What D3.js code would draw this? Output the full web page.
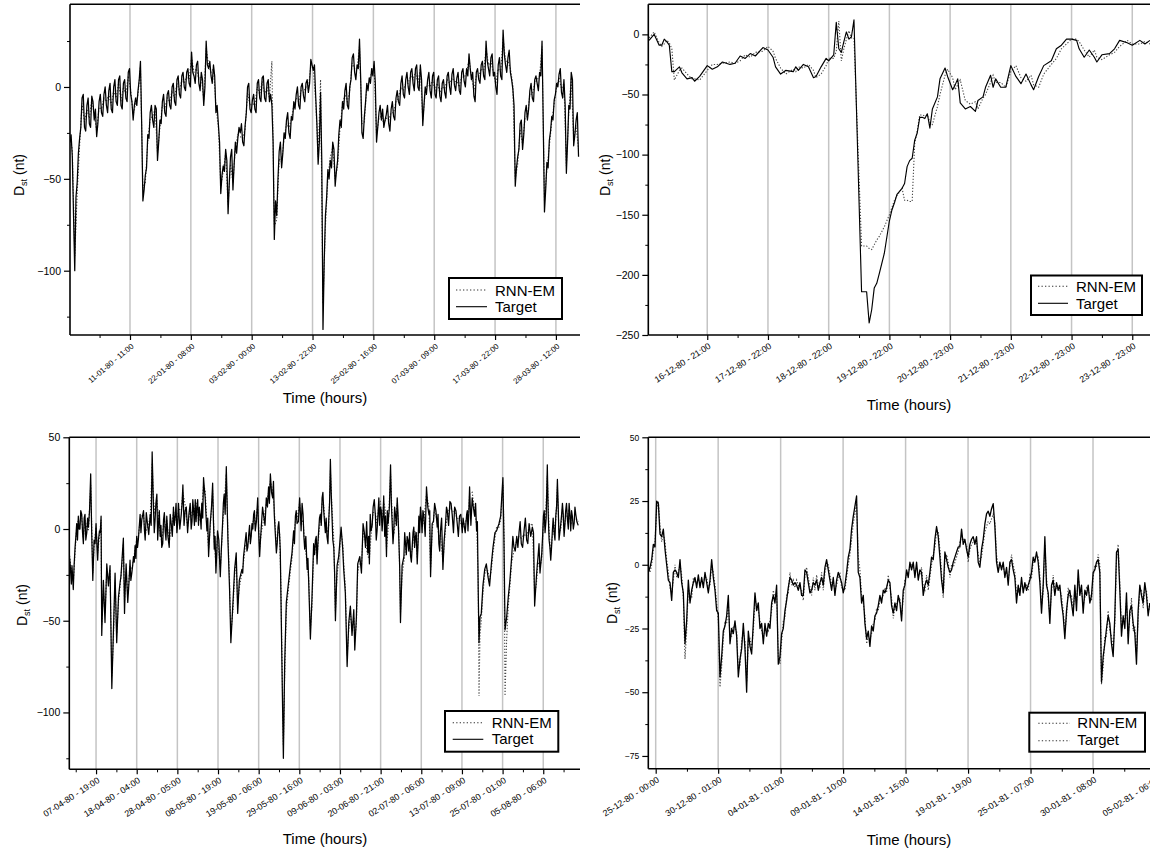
<!DOCTYPE html>
<html>
<head>
<meta charset="utf-8">
<script src="https://cdn.jsdelivr.net/npm/d3@7"></script>
<style>
  body { margin: 0; background: #fff; }
  svg { display: block; font-family: "Liberation Sans", Arial, sans-serif; }
</style>
</head>
<body>
<svg width="1150" height="851"></svg>
<script>
// ---- panel 1 : Jan - Mar 1980 (one reading every 10 samples, plus the in-between readings) ----
const p1Start = 3, p1Step = 10;
const p1Target = [
  -30,-38,-100,-52,-28,-6,-22,-10,-20,-5,
  -18,-27,-8,-14,-4,-10,-2,-12,0,-8,
  4,-10,2,-6,8,-4,-18,-6,-2,14,
  -62,-48,-26,-14,-18,-10,-40,-18,-8,-14,
  -4,-10,0,-8,4,-4,6,0,8,2,
  19,6,12,2,8,-10,25,10,6,12,
  -14,-20,-58,-43,-34,-69,-38,-56,-30,-28,
  -25,-30,-21,0,-12,-7,-12,2,-6,5,
  -6,2,-8,-10,-83,-70,-35,-44,-25,-18,
  -25,-16,-8,-4,-10,0,-5,2,-3,15,
  9,-5,-42,-3,-132,-70,-45,-40,-30,-54,
  -40,-18,-8,-2,-10,0,16,8,12,26,
  -25,-16,2,5,10,14,-30,-14,-18,-22,
  -15,-20,-12,-16,-6,-8,2,-4,4,0,
  8,2,10,0,12,-21,0,4,-2,6,
  -4,4,-5,2,-3,6,0,7,1,5,
  -2,8,3,10,18,4,-5,8,4,12,
  6,25,10,16,6,0,12,6,31,12,
  16,8,-1,-54,-38,-20,-34,-14,-18,-2,
  -6,4,2,8,25,-68,-41,-29,-16,-7,
  2,7,-3,4,-47,-10,8,-32,-18,-38];
// readings half way between the ones above
const p1TargetMid = [
  -26,-70,-60,-36,-22,-4,-24,-6,-22,-8,
  -12,-20,-4,-16,0,-14,2,-14,4,-10,
  6,-12,4,-8,10,-8,-10,-10,4,-20,
  -56,-44,-28,-10,-22,-12,-30,-20,-4,-16,
  -2,-12,2,-10,6,-6,8,-2,10,0,
  8,2,14,-2,4,0,12,14,2,6,
  -10,-30,-48,-46,-40,-52,-34,-42,-36,-22,
  -20,-32,-14,2,-14,-4,-14,4,-8,6,
  -8,4,-4,-30,-62,-50,-30,-36,-28,-14,
  -28,-18,-12,0,-12,2,-8,4,2,12,
  12,-20,-30,-40,-95,-60,-50,-44,-34,-46,
  -26,-22,-12,2,-12,4,18,4,10,4,
  -28,-8,-2,2,6,2,-22,-10,-12,-18,
  -10,-24,-8,-18,-2,-10,6,-6,8,-4,
  10,-2,12,-2,4,-10,-4,8,-6,8,
  -6,6,-8,4,-6,8,-4,10,-2,8,
  -4,10,0,6,10,8,-8,10,2,14,
  4,14,6,18,8,-4,16,4,18,8,
  20,4,-10,-44,-34,-18,-26,-10,-12,2,
  -8,6,-2,6,-20,-56,-44,-24,-18,-4,
  0,10,-6,-10,-30,-12,4,-26,-14];
const p1Model = [
  -28,-34,-92,-58,-32,-9,-19,-12,-17,-7,
  -15,-24,-11,-12,-6,-8,-4,-10,-2,-6,
  2,-8,0,-4,6,-2,-15,-9,-4,11,
  -55,-52,-30,-17,-16,-12,-36,-22,-10,-12,
  -6,-8,-2,-6,2,-2,4,2,6,4,
  16,8,10,4,6,-7,21,12,8,10,
  -10,-22,-54,-46,-36,-64,-42,-52,-33,-26,
  -27,-28,-23,-3,-10,-9,-10,0,-4,3,
  -4,0,-6,14,-76,-72,-39,-41,-28,-20,
  -22,-18,-10,-6,-8,-2,-3,0,-1,12,
  10,-8,-38,4,-118,-76,-50,-38,-33,-50,
  -43,-22,-10,-4,-8,-2,13,10,10,22,
  -20,-19,0,3,8,12,-26,-17,-16,-20,
  -17,-18,-14,-14,-8,-6,0,-2,2,2,
  6,4,8,2,10,-18,-3,2,0,4,
  -2,2,-3,0,-1,4,2,5,3,3,
  0,6,5,8,15,6,-2,6,6,10,
  8,21,12,14,8,2,10,8,27,14,
  14,10,1,-50,-42,-23,-31,-17,-16,-4,
  -4,2,4,6,22,-62,-45,-32,-19,-9,
  0,5,-1,2,-43,-14,5,-28,-21,-34];
const p1TickLabels = ["11-01-80 - 11:00", "22-01-80 - 08:00", "03-02-80 - 00:00", "13-02-80 - 22:00",
  "25-02-80 - 16:00", "07-03-80 - 09:00", "17-03-80 - 22:00", "28-03-80 - 12:00"];

// ---- panel 2 : storm of 19-12-1980 (hourly) ----
const p2Hours = [1,3,5,6,7,8,9,10,11,13,14,16,18,19,21,24,26,28,30,33,35,37,39,41,43,46,48,50,51,53,
  55,58,59,60,62,64,66,67,69,71,72,74,75,76,77,78,79,80,81,82,85,87,88,89,90,91,92,94,96,97,
  98,99,101,102,103,104,105,106,107,108,109,110,111,112,113,115,116,118,119,121,122,123,124,126,128,130,131,133,134,136,
  137,138,140,142,144,146,148,150,152,153,155,157,160,162,164,166,168,170,171,173,175,177,178,180,183,185,187,190,192,195,197,199];
const p2Target = [-5,0,-9,-9,-4,-6,-9,-31,-31,-27,-32,-37,-36,-39,-35,-26,-29,-27,-23,-25,-24,-18,-20,-16,-18,-11,-13,-19,-27,-33,
  -30,-31,-27,-30,-25,-27,-36,-35,-27,-20,-22,-17,10,-12,-15,-6,2,-4,-2,12,-214,-214,-240,-229,-211,-207,-199,-182,-155,-146,
  -140,-133,-128,-124,-110,-105,-103,-88,-82,-69,-69,-70,-66,-78,-62,-52,-37,-28,-35,-46,-42,-37,-57,-62,-60,-64,-55,-52,-44,-34,
  -44,-37,-44,-44,-26,-35,-41,-33,-42,-46,-35,-26,-22,-12,-9,-4,-4,-5,-12,-19,-13,-19,-23,-17,-16,-12,-5,-7,-9,-5,-8,-5];
const p2Model = [-3,2,-7,-10,-8,-5,-7,-12,-38,-30,-28,-33,-37,-37,-38,-30,-25,-25,-24,-23,-24,-22,-17,-19,-15,-14,-10,-14,-20,-28,
  -33,-29,-31,-27,-28,-25,-30,-36,-33,-26,-20,-20,-14,11,-22,-12,-4,3,-3,-3,-176,-176,-178,-179,-175,-171,-168,-160,-150,-144,
  -138,-134,-128,-138,-138,-139,-139,-91,-80,-67,-67,-68,-67,-73,-75,-60,-50,-34,-29,-36,-46,-42,-38,-55,-58,-56,-62,-53,-50,-40,
  -34,-40,-40,-44,-31,-26,-36,-39,-34,-42,-44,-33,-25,-20,-12,-8,-4,-4,-6,-13,-19,-13,-19,-21,-17,-15,-10,-5,-8,-8,-6,-8];
const p2TickLabels = ["16-12-80 - 21:00", "17-12-80 - 22:00", "18-12-80 - 22:00", "19-12-80 - 22:00",
  "20-12-80 - 23:00", "21-12-80 - 23:00", "22-12-80 - 23:00", "23-12-80 - 23:00"];

// ---- panel 3 : Apr - Aug 1980 ----
const p3Hours = [86,94,102,110,121,131,141,151,162,172, 182,193,203,217,223,230,238,250,260,271,
  281,285,295,305,316,326,336,347,357,367, 377,388,398,408,418,425,435,445,459,470,
  480,490,500,510,521,531,542,552,566,583, 595,603,613,624,634,644,654,665,675,685,
  700,712,726,737,747,757,774,784,798,813, 829,840,850,860,870,880,891,900,911,921,
  932,942,952,967,977,987,997,1014,1028,1038, 1051,1061,1071,1079,1092,1102,1112,1121,1131,1147,
  1157,1168,1178,1188,1199,1209,1219,1229,1244,1256, 1266,1281,1297,1311,1322,1336,1346,1359,1369,1379,
  1387,1396,1402,1410,1420,1435,1445,1455,1465,1476, 1486,1502,1511,1523,1533,1548,1558,1568,1578,1588,
  1599,1609,1619,1629,1640,1650,1660,1670,1681,1691, 1701,1712,1722,1732,1742,1757,1767,1773,1783,1794,
  1804,1814,1824,1835,1841,1851,1859,1872,1882,1892, 1907,1921,1931,1941,1954,1968,1978,1989,1999,2009,
  2019,2030,2036,2046,2061,2071,2081,2091,2102,2112, 2122,2132,2143,2153,2163,2173,2184,2194,2204,2214,
  2225,2235,2245,2255,2266,2282,2297,2307,2317,2332, 2348,2358,2368,2383,2399,2410,2426,2440,2455,2471,
  2485,2502,2512,2529,2537,2547,2563,2578,2590,2600, 2605,2611,2619,2629,2640,2650,2660,2670,2681,2691,
  2703,2713,2728,2738,2752,2759,2765,2775,2785,2795, 2806,2820,2837,2851,2865,2882,2898,2913,2933,2947,
  2958,2968,2980,2991,3001,3011,3025,3036,3046,3056, 3067,3077,3087,3097,3108,3118,3128,3138,3149,3159,
  3169,3179,3190,3200,3215];
const p3Target = [-15,-24,-20,-33,-10,3,7,0,8,-8, 8,-2,1,30,-1,-28,-6,3,-17,-1,
  7,-58,-28,-51,-19,-31,-20,-87,-55,-24, -62,-37,-29,-19,-5,-46,-19,-40,-17,-24,
  -15,-9,-4,-6,8,5,10,-6,3,8, 42,12,5,19,3,-4,-10,5,-1,7,
  -10,3,12,7,-2,14,8,24,10,-2, 14,4,10,16,12,2,7,14,28,17,
  -1,-15,3,25,-11,-24,-1,-26,3,19, 34,-6,-33,-62,-40,-22,-13,-46,-28,-22,
  -15,-6,-12,-4,-8,3,8,-1,17,-15, 1,7,17,23,30,17,8,-13,1,-4,
  -37,-91,-125,-73,-40,-28,-20,-13,-1,7, 3,17,-1,8,-11,-22,-30,-60,-37,-8,
  -6,-19,-1,8,17,10,-2,-4,5,38, 7,-10,-50,-20,-15,1,-11,-22,-35,-75,
  -51,-42,-58,-44,-66,-48,-19,-15,-24,3, -10,-13,-19,-1,12,7,-1,17,12,-1,
  18,7,-15,3,35,3,-1,8,17,-6, -51,-20,-15,-8,-4,-12,-15,-10,1,-4,
  -19,7,12,-2,7,23,8,-26,3,14, 1,-8,-1,-22,3,10,15,8,12,3,
  7,-2,3,8,-1,23,17,7,-1,-33, -62,-48,-46,-31,-22,-19,-26,-31,-19,-10,
  -2,-1,3,7,28,-10,-55,-48,-37,-28, -15,-10,-4,-2,-8,-1,-6,3,1,-42,
  -26,-15,-24,-13,7,-2,35,-6,-17,-1, -2,7,27,-6,3,14,-4,10,5,14,
  -1,7,3,8,2];
// extra in-between readings of the target in the quieter stretches
const p3HoursExtra = [90,98,106,115,126,136,146,156,167,177,187,198,210,244,255,265,276,
  403,413,430,440,452,464,475,485,495,505, 526,547,559,574,589,
  608,618,629,639,649,660,670,680,692,706,719,731,742,752,765,779,791,805,821,835,
  845,855,865,875,885,896,906,916,927,937,947,960,972,982,992,1005,1021,1033,1044,
  1152,1163,1173,1183,1194,1204,1214,1224,1236,1250,1261,1274,1289,1304,1316,1329,1341,1352,1364,1374,1383,
  1470,1481,1494,1507,1517,1528,1540,1553,
  1594,1604,1614,1624,1635,1645,1655,1665,1676,1686,1696,1706,1717,
  1900,1914,1926,1936,1948,1961,1973,1984,1994,2004,2014,2025,2041,2054,2066,2076,2086,2097,2107,2117,
  2148,2158,2168,2178,2189,2199,2209,2219,2230,2240,2250,2260,2274,2290,2302,2312,2325,2340,2353,2363,
  2375,2391,2405,2418,2433,2448,2463,2478,2493,2507,2520,2533,2542,2555,2570,2584,2595,
  2813,2828,2844,2858,2873,2890,2905,2923,2940,
  2963,2974,2986,2996,3006,3018,3030,3041,3051,3061,3072,3082,3092,3102,3113,3123,3133,3143,3154,3164,3174,3185,3195,3207];
const p3TargetExtra = [-18,-30,-26,-20,-4,-6,0,10,-2,6,-6,6,10,-8,-8,-6,-2,
  -26,-12,-30,-30,-30,-28,-20,-18,-16,-10, -2,0,9,-3,2,
  -2,14,-6,10,2,-8,9,-6,-4,8,-4,2,14,3,0,14,2,12,8,0,
  16,2,4,16,12,0,6,22,6,6,-6,12,4,-4,-14,-6,-10,14,8,
  -24,-10,-2,-10,2,-4,0,10,4,-2,-6,12,2,12,14,20,26,-2,-8,4,-12,
  -8,10,4,8,14,-4,-4,-16,
  -14,-4,-8,6,2,20,4,6,-8,14,20,-6,-24,
  -2,4,-4,8,2,16,-6,8,2,10,6,-4,10,12,14,-8,12,2,8,-20,
  -2,-14,-6,-2,-18,-2,-10,-2,-8,-2,6,10,-4,12,10,-12,4,10,8,-12,
  6,-6,12,2,14,-2,10,-4,8,6,-2,10,8,2,12,14,4,
  -4,-12,-10,4,-10,6,-8,-4,-2,
  -20,-8,-18,-4,10,6,10,-10,-10,6,-6,12,12,-2,8,8,2,14,0,8,10,0,12,4];
const p3Model = [-13,-20,-23,-29,-13,1,5,3,6,-5, 5,1,-1,24,3,-24,-9,1,-13,-4,
  5,-52,-33,-46,-23,-28,-22,-80,-60,-28, -57,-40,-31,-21,-8,-40,-23,-36,-20,-22,
  -17,-11,-6,-4,5,7,8,-3,1,6, 36,16,8,16,6,-2,-7,2,1,5,
  -7,0,9,9,1,11,10,20,13,1, 11,7,8,13,14,5,5,11,24,21,
  3,-11,0,21,-7,-20,-4,-22,0,15, 30,-2,-28,-57,-44,-26,-16,-41,-32,-24,
  -18,-9,-9,-7,-5,0,6,2,13,-11, -2,5,14,20,26,21,11,-9,-2,-2,
  -32,-85,-118,-80,-45,-31,-23,-16,-4,4, 6,14,3,5,-8,-19,-27,-55,-42,-12,
  -9,-16,-4,5,14,13,1,-2,2,32, 11,-6,-45,-25,-18,-2,-8,-19,-31,-69,
  -55,-46,-54,-48,-60,-52,-24,-17,-21,-1, -7,-15,-16,-4,9,9,2,14,15,2,
  15,10,-11,0,30,7,-3,5,14,-2, -46,-25,-18,-11,-6,-9,-13,-12,-2,-1,
  -16,4,9,1,5,19,12,-22,-1,11, 4,-5,-3,-18,0,7,12,10,9,6,
  5,1,1,6,2,19,20,10,2,-28, -91,-58,-50,-35,-25,-21,-23,-28,-22,-13,
  -5,1,1,5,24,-4,-91,-60,-42,-31, -18,-12,-6,-4,-5,-3,-4,1,3,-36,
  -30,-18,-21,-16,4,1,29,-1,-14,-4, 0,5,23,-2,0,11,-1,7,7,11,
  2,5,5,6,4];
const p3TickLabels = ["07-04-80 - 19:00", "18-04-80 - 04:00", "28-04-80 - 05:00", "08-05-80 - 19:00",
  "19-05-80 - 06:00", "29-05-80 - 16:00", "09-06-80 - 03:00", "20-06-80 - 21:00",
  "02-07-80 - 06:00", "13-07-80 - 09:00", "25-07-80 - 01:00", "05-08-80 - 06:00"];

// ---- panel 4 : Dec 1980 - Feb 1981 (one reading every 3.2 h) ----
const p4Start = 105.9, p4Step = 3.2;
const p4Target = [
  -3,-1,2,8,7,25,24,12,11,14,
  6,0,-6,-7,-14,-3,-2,-3,-5,2,
  -7,-11,-31,-22,-6,-15,-10,-7,-5,-9,
  -4,-9,-5,-9,-3,-7,-11,-6,2,-5,
  -10,-18,-19,-44,-36,-26,-24,-20,-12,-31,
  -25,-27,-22,-28,-44,-37,-33,-23,-33,-50,
  -26,-32,-35,-23,-11,-18,-15,-25,-23,-31,
  -23,-28,-23,-25,-15,-12,-15,-8,-39,-36,
  -27,-25,-18,-14,-9,-5,-6,-8,-7,-8,
  -10,-7,-12,-12,-2,-3,-7,-11,-10,-7,
  -8,-6,-10,-7,-5,-8,-1,2,-2,-6,
  -10,-5,-12,-6,-3,-5,-7,-11,-8,-3,
  3,6,14,19,23,27,-3,-5,-15,-12,
  -23,-29,-26,-32,-24,-26,-20,-19,-16,-12,
  -15,-10,-11,-9,-6,
  -7,-16,-19,-15,-18,-12,-15,-22,-10,-8,
  -2,-5,1,-2,1,-5,1,-6,-2,-3,
  -12,-8,-6,-8,-3,3,2,10,15,11,
  3,-6,-11,5,2,-1,-3,-2,1,3,
  5,7,7,14,8,10,6,3,8,10,
  11,8,11,1,-1,6,10,16,20,21,
  19,22,24,15,1,-3,1,-2,1,-5,
  -1,-8,1,2,-2,-5,-15,-8,-12,-5,
  -11,-7,-10,-8,-6,-3,3,1,5,1,
  -7,-19,-8,11,-8,-11,-23,-8,-6,-12,
  -7,-10,-8,-15,-20,-29,-18,-12,-10,-15,
  -20,-8,-18,-2,-12,-8,-19,-10,-12,-8,
  -15,-12,-3,-2,1,2,-3,-46,-36,-31,
  -25,-20,-23,-31,-36,-20,5,6,-10,-28,
  -20,-25,-11,-31,-18,-16,-23,-27,-39,-18,
  -8,-12,-15,-7,-12,-20,-15];
const p4Model = [
  -1,-3,0,6,9,22,25,15,9,12,
  9,2,-3,-9,-11,-6,0,-5,-3,0,
  -4,-13,-37,-26,-9,-12,-13,-5,-7,-7,
  -6,-7,-7,-7,-5,-5,-9,-8,0,-3,
  -8,-15,-22,-48,-40,-29,-22,-23,-15,-28,
  -28,-24,-25,-26,-41,-40,-30,-26,-30,-46,
  -30,-29,-33,-26,-14,-15,-18,-22,-26,-28,
  -26,-25,-26,-22,-18,-10,-13,-11,-36,-39,
  -30,-22,-21,-12,-11,-3,-8,-6,-9,-6,
  -8,-9,-10,-14,-4,-1,-5,-9,-12,-5,
  -10,-4,-8,-9,-3,-10,-3,0,0,-4,
  -8,-7,-10,-8,-5,-3,-9,-9,-10,-5,
  0,4,10,16,20,24,3,-2,-12,-15,
  -20,-31,-28,-29,-27,-23,-22,-17,-18,-14,
  -13,-12,-9,-11,-4,
  -9,-13,-21,-17,-15,-14,-13,-20,-13,-6,
  -4,-3,-1,0,-1,-3,-1,-4,-4,-1,
  -9,-10,-4,-10,-5,0,4,7,13,13,
  6,-3,-13,2,4,1,-5,0,-1,1,
  3,5,9,11,10,8,8,1,6,8,
  9,10,9,4,1,3,8,13,15,17,
  16,18,20,17,4,-1,-1,0,-1,-3,
  -3,-6,-1,4,0,-3,-12,-11,-9,-8,
  -9,-9,-8,-10,-4,-5,1,3,3,3,
  -4,-16,-11,8,-5,-13,-20,-11,-4,-10,
  -9,-8,-10,-12,-18,-26,-21,-9,-13,-12,
  -18,-10,-15,-5,-9,-10,-16,-13,-9,-10,
  -12,-14,-5,0,-1,4,0,-47,-40,-28,
  -28,-18,-26,-28,-33,-23,2,8,-7,-25,
  -23,-22,-14,-28,-21,-13,-26,-24,-35,-21,
  -10,-10,-17,-9,-10,-18,-17];
const p4TickLabels = ["25-12-80 - 00:00", "30-12-80 - 01:00", "04-01-81 - 01:00", "09-01-81 - 10:00",
  "14-01-81 - 15:00", "19-01-81 - 19:00", "25-01-81 - 07:00", "30-01-81 - 08:00", "05-02-81 - 06:00"];

const legendNames = ["RNN-EM", "Target"];

function positions(start, step, n) {
  return d3.range(n).map(function (k) { return start + k * step; });
}
// join the main readings and any extra readings into one series ordered in time
function series(xs, ys, xs2, ys2) {
  return d3.zip(xs.concat(xs2 || []), ys.concat(ys2 || []))
    .sort(function (a, b) { return a[0] - b[0]; });
}

const p1Xs = positions(p1Start, p1Step, p1Target.length);
const p4Xs = positions(p4Start, p4Step, p4Target.length);

const panels = [
  { id: 1, left: 70, right: 580, top: 4.3, bottom: 335,
    xDomain: [3.5, 2099], yDomain: [-135, 45], tickStep: 250, labels: p1TickLabels,
    target: series(p1Xs, p1Target, positions(p1Start + p1Step / 2, p1Step, p1TargetMid.length), p1TargetMid),
    model: series(p1Xs, p1Model), lineWidth: 1.25,
    yMajor: [0, -50, -100], yMinor: [25, -25, -75, -125], yFont: 10.5,
    xFont: 7.8, xAngle: -40, dst: [24, 175], time: [325, 403],
    legend: { x: 449, y: 278, w: 113, h: 41, lx0: 456, lx1: 487, ly: [290, 306.7], tx: 495, ty: [295.5, 312] },
    targetLegendDotted: false },
  { id: 2, left: 648.3, right: 1152, top: 4.3, bottom: 335,
    xDomain: [0.7, 199.8], yDomain: [-250, 25], tickStep: 24, labels: p2TickLabels,
    target: series(p2Hours, p2Target), model: series(p2Hours, p2Model), lineWidth: 1.15,
    yMajor: [0, -50, -100, -150, -200, -250], yMinor: [-25, -75, -125, -175, -225], yFont: 10.5,
    xFont: 8.8, xAngle: -33, dst: [610, 175], time: [909, 410],
    legend: { x: 1031, y: 275.5, w: 111, h: 39.5, lx0: 1038, lx1: 1068, ly: [286.3, 303.3], tx: 1076, ty: [291.7, 309] },
    targetLegendDotted: false },
  { id: 3, left: 69.3, right: 580, top: 437.3, bottom: 769.3,
    xDomain: [85.5, 3226], yDomain: [-131, 50], tickStep: 250, labels: p3TickLabels,
    target: series(p3Hours, p3Target, p3HoursExtra, p3TargetExtra), model: series(p3Hours, p3Model), lineWidth: 1.25,
    yMajor: [50, 0, -50, -100], yMinor: [25, -25, -75, -125], yFont: 10.5,
    xFont: 8.8, xAngle: -33, dst: [27, 605], time: [325, 844],
    legend: { x: 445, y: 711, w: 113.3, h: 40.7, lx0: 452.7, lx1: 483.3, ly: [722.7, 739.3], tx: 491.7, ty: [727.7, 744.3] },
    targetLegendDotted: false },
  { id: 4, left: 648.3, right: 1152, top: 437.3, bottom: 768.7,
    xDomain: [105.8, 1073.3], yDomain: [-80, 50], tickStep: 120, labels: p4TickLabels,
    target: series(p4Xs, p4Target), model: series(p4Xs, p4Model), lineWidth: 1.3,
    yMajor: [50, 25, 0, -25, -50, -75], yMinor: [37.5, 12.5, -12.5, -37.5, -62.5], yFont: 8.5,
    xFont: 8.8, xAngle: -33, dst: [617, 603], time: [909, 845],
    legend: { x: 1029.3, y: 712.7, w: 115.7, h: 39, lx0: 1038.3, lx1: 1070, ly: [723.3, 740.7], tx: 1077.3, ty: [728.3, 745] },
    targetLegendDotted: true }
];

var svg = d3.select("svg");

function drawPanel(p) {
  var x = d3.scaleLinear().domain(p.xDomain).range([p.left, p.right]);
  var y = d3.scaleLinear().domain(p.yDomain).range([p.bottom, p.top]);
  var g = svg.append("g").attr("class", "panel" + p.id);

  var majors = p.labels.map(function (d, k) { return p.tickStep * (k + 1); });
  var minors = d3.range(p.tickStep / 2, p.xDomain[1], p.tickStep)
    .filter(function (d) { return d > p.xDomain[0]; });

  // vertical grid lines at the major ticks
  g.selectAll(".grid").data(majors.filter(function (d) { return d < p.xDomain[1]; }))
    .enter().append("line")
    .attr("x1", function (d) { return x(d); }).attr("x2", function (d) { return x(d); })
    .attr("y1", p.top).attr("y2", p.bottom)
    .attr("stroke", "#c4c4c4").attr("stroke-width", 1.5);

  // the two series, clipped to the plot area
  g.append("clipPath").attr("id", "clip" + p.id).append("rect")
    .attr("x", p.left).attr("y", p.top)
    .attr("width", p.right - p.left).attr("height", p.bottom - p.top);
  var plot = g.append("g").attr("clip-path", "url(#clip" + p.id + ")");
  var line = d3.line().x(function (d) { return x(d[0]); }).y(function (d) { return y(d[1]); });

  plot.append("path").datum(p.model)
    .attr("d", line).attr("fill", "none")
    .attr("stroke", "#4a4a4a").attr("stroke-width", 1.1).attr("stroke-dasharray", "1.3,1.7");
  plot.append("path").datum(p.target)
    .attr("d", line).attr("fill", "none")
    .attr("stroke", "#000").attr("stroke-width", p.lineWidth).attr("stroke-linejoin", "round");

  // frame: left, top and bottom edges
  var frame = g.append("g").attr("stroke", "#000").attr("stroke-width", 1.6);
  frame.append("line").attr("x1", p.left).attr("x2", p.left).attr("y1", p.top).attr("y2", p.bottom);
  frame.append("line").attr("x1", p.left).attr("x2", p.right).attr("y1", p.top).attr("y2", p.top);
  frame.append("line").attr("x1", p.left).attr("x2", p.right).attr("y1", p.bottom).attr("y2", p.bottom);

  // y axis
  var yAxis = g.append("g").attr("transform", "translate(" + p.left + ",0)")
    .call(d3.axisLeft(y).tickValues(p.yMajor).tickSize(6).tickPadding(3).tickFormat(d3.format("d")));
  yAxis.select(".domain").remove();
  yAxis.selectAll("line").attr("stroke-width", 1.2);
  yAxis.selectAll("text").style("font-size", p.yFont + "px").style("font-family", "'Liberation Sans', Arial, sans-serif");
  var yMinor = g.append("g").attr("transform", "translate(" + p.left + ",0)")
    .call(d3.axisLeft(y).tickValues(p.yMinor).tickSize(3).tickFormat(""));
  yMinor.select(".domain").remove();

  // x axis with rotated date labels
  var xAxis = g.append("g").attr("transform", "translate(0," + p.bottom + ")")
    .call(d3.axisBottom(x).tickValues(majors.filter(function (d) { return d <= p.xDomain[1] + 40; }))
      .tickSize(5).tickFormat(function (d) { return p.labels[d / p.tickStep - 1]; }));
  xAxis.select(".domain").remove();
  xAxis.selectAll("line").attr("stroke-width", 1.2);
  xAxis.selectAll("text")
    .attr("x", 0).attr("y", 0).attr("dy", "0.35em")
    .attr("transform", "translate(2,10) rotate(" + p.xAngle + ")")
    .style("text-anchor", "end")
    .style("font-size", p.xFont + "px").style("font-family", "'Liberation Sans', Arial, sans-serif");
  var xMinor = g.append("g").attr("transform", "translate(0," + p.bottom + ")")
    .call(d3.axisBottom(x).tickValues(minors).tickSize(3).tickFormat(""));
  xMinor.select(".domain").remove();

  // axis titles
  var dst = g.append("text")
    .attr("transform", "translate(" + p.dst[0] + "," + p.dst[1] + ") rotate(-90)")
    .attr("text-anchor", "middle").style("font-size", "14px");
  dst.append("tspan").text("D");
  dst.append("tspan").text("st").style("font-size", "9px").attr("dy", "3");
  dst.append("tspan").text(" (nt)").attr("dy", "-3");

  g.append("text").attr("x", p.time[0]).attr("y", p.time[1])
    .attr("text-anchor", "middle").style("font-size", "15px").text("Time (hours)");

  // legend
  var L = p.legend;
  var leg = g.append("g");
  leg.append("rect").attr("x", L.x).attr("y", L.y).attr("width", L.w).attr("height", L.h)
    .attr("fill", "#fff").attr("stroke", "#000").attr("stroke-width", 2);
  legendNames.forEach(function (name, k) {
    var dotted = k === 0 || p.targetLegendDotted;
    leg.append("line").attr("x1", L.lx0).attr("x2", L.lx1).attr("y1", L.ly[k]).attr("y2", L.ly[k])
      .attr("stroke", dotted ? "#333" : "#000").attr("stroke-width", 1.1)
      .attr("stroke-dasharray", dotted ? "1.3,2.2" : null);
    leg.append("text").attr("x", L.tx).attr("y", L.ty[k]).style("font-size", "15px").text(name);
  });
}

panels.forEach(drawPanel);
</script>
</body>
</html>
